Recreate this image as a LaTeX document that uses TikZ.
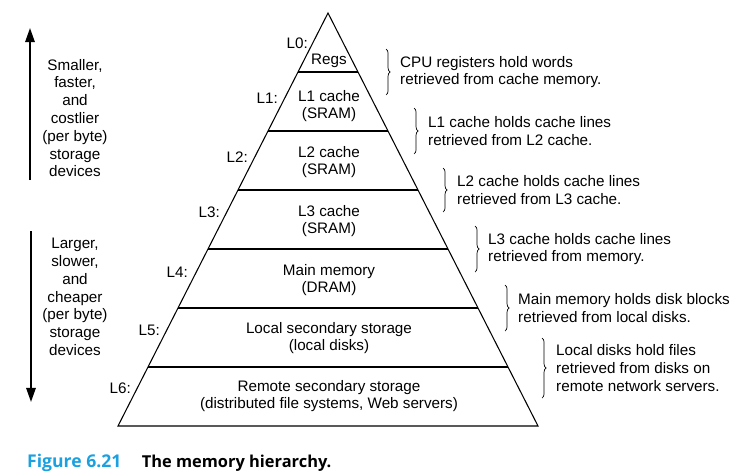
\documentclass[tikz,border=0pt]{standalone}
\usepackage{fontspec}
\setmainfont{Liberation Sans}
\newfontfamily\capfont{Open Sans}
\usepackage{xcolor}
\usepackage{tikz}
\usetikzlibrary{arrows.meta,positioning,calc,decorations.pathreplacing}

\definecolor{figblue}{RGB}{27,160,224}

\begin{document}
\begin{tikzpicture}[x=0.03cm, y=-0.03cm,
    level/.style={inner sep=0pt, align=center, font=\fontsize{13}{15.2}\selectfont},
    tag/.style={inner sep=0pt, anchor=east, font=\fontsize{13}{15.2}\selectfont},
    note/.style={inner sep=0pt, anchor=west, align=left, font=\fontsize{13}{15.2}\selectfont},
    side/.style={inner sep=0pt, align=center, font=\fontsize{13}{15.2}\selectfont},
    layer/.style={line width=0.9pt},
    hold/.style={decorate, decoration={brace, amplitude=3.5pt}, line width=0.6pt},
    trend/.style={-{Triangle[length=12pt, width=8pt]}, line width=1.6pt},
    capnum/.style={inner sep=0pt, anchor=west, text=figblue, font=\capfont\bfseries\fontsize{15}{17}\selectfont},
    captext/.style={inner sep=0pt, anchor=west, font=\capfont\bfseries\fontsize{14}{16}\selectfont}
]
    \useasboundingbox (0,0) rectangle (750,474);

    % Pyramid
    \coordinate (apex) at (328,13);
    \coordinate (bl) at (118,426);
    \coordinate (br) at (538,426);
    \draw[layer] (apex) -- (bl) -- (br) -- cycle;
    \foreach \k in {1,...,6}
        \draw[layer] ($(apex)!\k/7!(bl)$) -- ($(apex)!\k/7!(br)$);

    % Levels
    \node[level] (regs) at (329,61) {Regs};
    \node[level] (l1) at (329,106) {L1 cache\\(SRAM)};
    \node[level] (l2) at (329,162) {L2 cache\\(SRAM)};
    \node[level] (l3) at (329,221) {L3 cache\\(SRAM)};
    \node[level] (mem) at (329,280) {Main memory\\(DRAM)};
    \node[level] (local) at (329,338) {Local secondary storage\\(local disks)};
    \node[level] (remote) at (329,396) {Remote secondary storage\\(distributed file systems, Web servers)};

    % Level tags
    \node[tag] (t0) at (308,43) {L0:};
    \node[tag] (t1) at (278,98) {L1:};
    \node[tag] (t2) at (248,157) {L2:};
    \node[tag] (t3) at (220,212) {L3:};
    \node[tag] (t4) at (188,272) {L4:};
    \node[tag] (t5) at (160,330) {L5:};
    \node[tag] (t6) at (131,388) {L6:};

    % Notes
    \node[note] (n0) at (400,72) {CPU registers hold words\\retrieved from cache memory.};
    \node[note] (n1) at (428,131) {L1 cache holds cache lines\\retrieved from L2 cache.};
    \node[note] (n2) at (457,190) {L2 cache holds cache lines\\retrieved from L3 cache.};
    \node[note] (n3) at (488,249) {L3 cache holds cache lines\\retrieved from memory.};
    \node[note] (n4) at (518,308) {Main memory holds disk blocks\\retrieved from local disks.};
    \node[note] (n5) at (556,368) {Local disks hold files\\retrieved from disks on\\remote network servers.};

    % Braces
    \draw[hold] ([shift={(-14,-23)}]n0.west) -- ([shift={(-14,23)}]n0.west);
    \draw[hold] ([shift={(-14,-23)}]n1.west) -- ([shift={(-14,23)}]n1.west);
    \draw[hold] ([shift={(-14,-22)}]n2.west) -- ([shift={(-14,22)}]n2.west);
    \draw[hold] ([shift={(-13,-23)}]n3.west) -- ([shift={(-13,23)}]n3.west);
    \draw[hold] ([shift={(-13,-23)}]n4.west) -- ([shift={(-13,23)}]n4.west);
    \draw[hold] ([shift={(-14,-30)}]n5.west) -- ([shift={(-14,30)}]n5.west);

    % Side arrows
    \node[side] (fast) at (75,118) {Smaller,\\faster,\\and\\costlier\\(per byte)\\storage\\devices};
    \node[side] (slow) at (75,297) {Larger,\\slower,\\and\\cheaper\\(per byte)\\storage\\devices};
    \coordinate (up0) at (30,180);
    \coordinate (up1) at (30,28);
    \coordinate (dn0) at (31,231);
    \coordinate (dn1) at (31,402);
    \draw[trend] (up0) -- (up1);
    \draw[trend] (dn0) -- (dn1);

    % Caption
    \node[capnum] (fig) at (27,463) {Figure 6.21};
    \node[captext, right=0.6cm of fig] (title) {The memory hierarchy.};
\end{tikzpicture}
\end{document}
